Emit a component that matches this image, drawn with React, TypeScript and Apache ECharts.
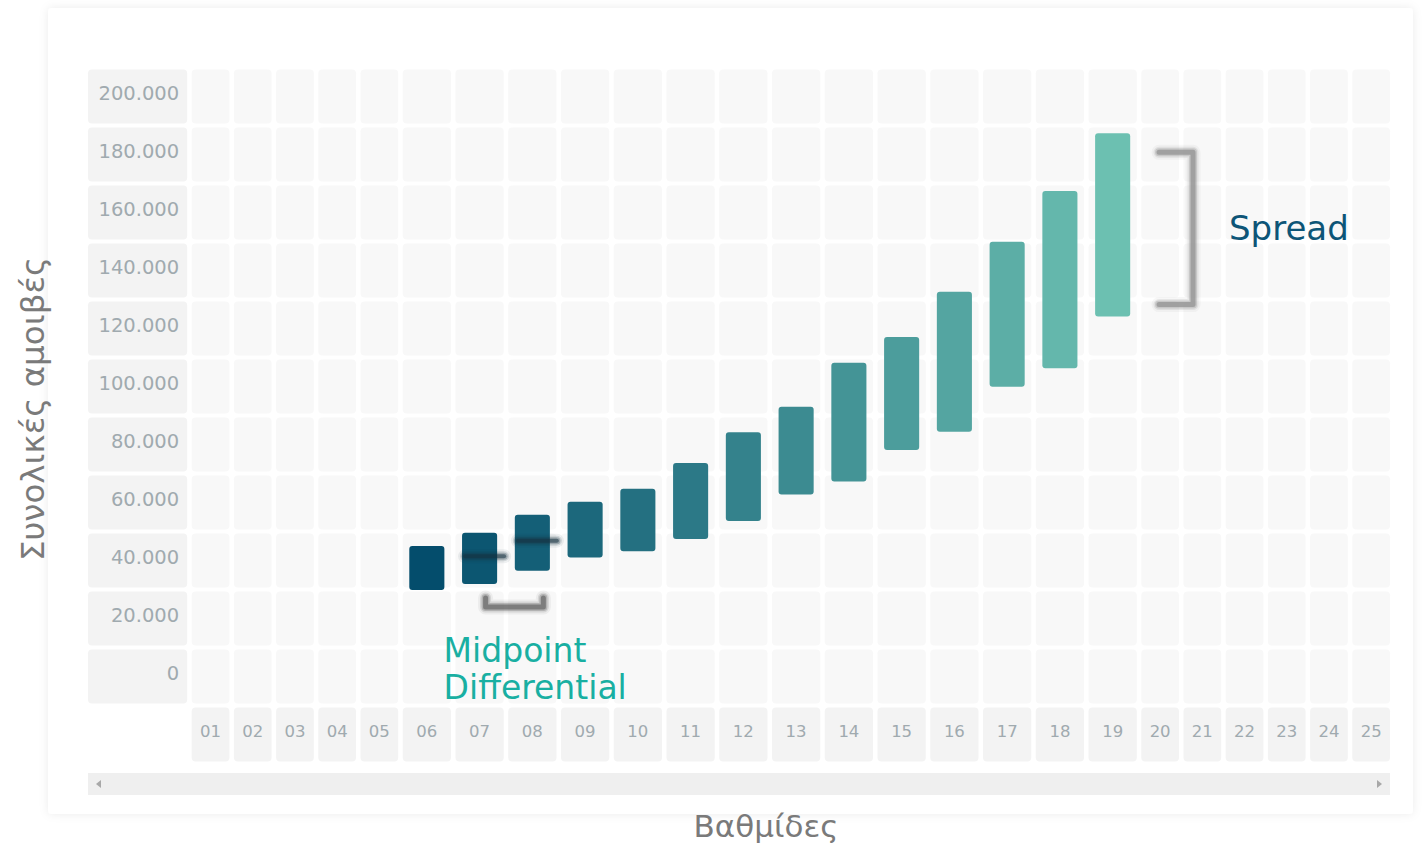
import React, { useEffect, useRef } from 'react';
import * as echarts from 'echarts';

// Grades shown along the horizontal axis
const grades = ['01', '02', '03', '04', '05', '06', '07', '08', '09', '10', '11', '12', '13',
  '14', '15', '16', '17', '18', '19', '20', '21', '22', '23', '24', '25'];

// Pay bands (min / max total compensation) per grade
const bandGrades = ['06', '07', '08', '09', '10', '11', '12', '13', '14', '15', '16', '17', '18', '19'];
const bandMin = [29800, 31900, 36500, 41000, 43200, 47400, 53600, 62800, 67200, 78100, 84400, 99900, 106300, 124100];
const bandMax = [45000, 49600, 55800, 60300, 64700, 73600, 84200, 93000, 108200, 117100, 132700, 149900, 167400, 187300];

// Value-axis tick rows
const yTicks = [0, 20000, 40000, 60000, 80000, 100000, 120000, 140000, 160000, 180000, 200000];

const yAxisTitle = 'Συνολικές αμοιβές';
const xAxisTitle = 'Βαθμίδες';
const spreadGrade = '19';
const midpointGrades = ['07', '08'];
const spreadLabel = 'Spread';
const midpointLabel = 'Midpoint\nDifferential';

// Layout helpers (in axis units)
const STEP = 20000;
const WIDE = 1.25;
const LABEL_COL = 2.457;
const BAR_FRAC = 0.665;

const colWidths = grades.map((g) => (bandGrades.includes(g) ? WIDE : 1));
const colStarts: number[] = [];
let acc = 0;
colWidths.forEach((w) => {
  colStarts.push(acc);
  acc += w;
});
const X_MAX = acc;

const fmt = (v: number) => String(v).replace(/\B(?=(\d{3})+(?!\d))/g, '.');

const C_FROM = [4, 77, 108];
const C_TO = [108, 192, 177];
const bandColor = (i: number, n: number) => {
  const t = n > 1 ? i / (n - 1) : 0;
  const c = C_FROM.map((a, k) => Math.round(a + (C_TO[k] - a) * t));
  return `rgb(${c[0]},${c[1]},${c[2]})`;
};

const TICK_FONT = '"DejaVu Sans", sans-serif';
const NOTE_FONT = '"DejaVu Sans", sans-serif';
const TITLE_FONT = '"DejaVu Sans", sans-serif';

// Soft (blurred-looking) stroke built from layered translucent polylines
const softLine = (points: number[][], color: string, width: number, strength = 1) => {
  const layers = [
    { w: width + 10, o: 0.06 },
    { w: width + 6, o: 0.13 },
    { w: width + 3, o: 0.24 },
    { w: width, o: 0.5 },
  ];
  return layers.map((l) => ({
    type: 'polyline',
    shape: { points },
    style: {
      stroke: color,
      lineWidth: l.w,
      fill: 'none',
      opacity: Math.min(1, l.o * strength),
      lineCap: 'round',
      lineJoin: 'round',
    },
  }));
};

export default function App() {
  const ref = useRef<HTMLDivElement>(null);

  useEffect(() => {
    if (!ref.current) return;
    const chart = echarts.init(ref.current, undefined, { renderer: 'svg' });

    const cellData: number[][] = [];
    yTicks.forEach((v) => {
      cellData.push([-1, v]);
      grades.forEach((_, c) => cellData.push([c, v]));
    });
    grades.forEach((_, c) => cellData.push([c, -STEP]));

    const barData = bandGrades.map((g, i) => [grades.indexOf(g), bandMin[i], bandMax[i], i]);

    const colPx = (api: any, c: number) => {
      const l = api.coord([colStarts[c], 0])[0];
      const r = api.coord([colStarts[c] + colWidths[c], 0])[0];
      return { l, r, c: (l + r) / 2 };
    };
    const barPx = (api: any, g: string) => {
      const i = bandGrades.indexOf(g);
      const c = grades.indexOf(g);
      const cx = colStarts[c] + colWidths[c] / 2;
      const hw = (colWidths[c] * BAR_FRAC) / 2;
      const p0 = api.coord([cx - hw, bandMax[i]]);
      const p1 = api.coord([cx + hw, bandMin[i]]);
      return { l: p0[0], r: p1[0], top: p0[1], bottom: p1[1], mid: api.coord([cx, (bandMin[i] + bandMax[i]) / 2])[1] };
    };

    const option: any = {
      animation: false,
      grid: { left: 85.75, right: 33.75, top: 67.5, bottom: 82.5 },
      xAxis: { type: 'value', min: -LABEL_COL, max: X_MAX, show: false },
      yAxis: { type: 'value', min: -30000, max: 210000, show: false },
      graphic: [
        {
          type: 'rect',
          z: -10,
          shape: { x: 48, y: 8, width: 1365, height: 806, r: 4 },
          style: { fill: '#ffffff', shadowBlur: 10, shadowColor: 'rgba(0,0,0,0.08)' },
        },
        {
          type: 'rect',
          shape: { x: 88, y: 773, width: 1302, height: 22 },
          style: { fill: '#efefef' },
        },
        {
          type: 'polygon',
          shape: { points: [[96, 784], [101, 780], [101, 788]] },
          style: { fill: '#a8a8a8' },
        },
        {
          type: 'polygon',
          shape: { points: [[1382, 784], [1377, 780], [1377, 788]] },
          style: { fill: '#a8a8a8' },
        },
        {
          type: 'text',
          x: 33,
          y: 409,
          rotation: Math.PI / 2,
          style: {
            text: yAxisTitle,
            x: 0,
            y: 0,
            align: 'center',
            verticalAlign: 'middle',
            fill: '#7a7a7a',
            font: `32.5px ${TITLE_FONT}`,
          },
        },
        {
          type: 'text',
          x: 766,
          y: 826,
          style: {
            text: xAxisTitle,
            x: 0,
            y: 0,
            align: 'center',
            verticalAlign: 'middle',
            fill: '#7a7a7a',
            font: `31px ${TITLE_FONT}`,
          },
        },
      ],
      series: [
        {
          type: 'custom',
          name: 'cells',
          silent: true,
          clip: false,
          data: cellData,
          renderItem: (_p: any, api: any) => {
            const c = api.value(0);
            const v = api.value(1);
            const x0 = c < 0 ? -LABEL_COL : colStarts[c];
            const x1 = c < 0 ? 0 : colStarts[c] + colWidths[c];
            const p0 = api.coord([x0, v + STEP / 2]);
            const p1 = api.coord([x1, v - STEP / 2]);
            const gx = 2.25;
            const gy = 2;
            const isHeader = c < 0 || v < 0;
            const children: any[] = [
              {
                type: 'rect',
                shape: { x: p0[0] + gx, y: p0[1] + gy, width: p1[0] - p0[0] - 2 * gx, height: p1[1] - p0[1] - 2 * gy, r: 4 },
                style: { fill: isHeader ? '#f3f3f3' : '#f8f8f8' },
              },
            ];
            const cy = (p0[1] + p1[1]) / 2 - 3;
            if (c < 0) {
              children.push({
                type: 'text',
                style: {
                  text: fmt(v),
                  x: p1[0] - gx - 8,
                  y: cy,
                  align: 'right',
                  verticalAlign: 'middle',
                  fill: '#a0aaaf',
                  font: `19.5px ${TICK_FONT}`,
                },
              });
            } else if (v < 0) {
              children.push({
                type: 'text',
                style: {
                  text: grades[c],
                  x: (p0[0] + p1[0]) / 2,
                  y: cy,
                  align: 'center',
                  verticalAlign: 'middle',
                  fill: '#a0aaaf',
                  font: `16.5px ${TICK_FONT}`,
                },
              });
            }
            return { type: 'group', children };
          },
        },
        {
          type: 'custom',
          name: 'bands',
          clip: false,
          data: barData,
          renderItem: (_p: any, api: any) => {
            const c = api.value(0);
            const lo = api.value(1);
            const hi = api.value(2);
            const i = api.value(3);
            const cx = colStarts[c] + colWidths[c] / 2;
            const hw = (colWidths[c] * BAR_FRAC) / 2;
            const p0 = api.coord([cx - hw, hi]);
            const p1 = api.coord([cx + hw, lo]);
            return {
              type: 'rect',
              shape: { x: p0[0], y: p0[1], width: p1[0] - p0[0], height: p1[1] - p0[1], r: 3 },
              style: { fill: bandColor(i, bandGrades.length) },
            };
          },
        },
        {
          type: 'custom',
          name: 'notes',
          silent: true,
          clip: false,
          z: 5,
          data: [[0, 0]],
          renderItem: (_p: any, api: any) => {
            const children: any[] = [];
            // midpoint markers
            midpointGrades.forEach((g) => {
              const b = barPx(api, g);
              children.push(...softLine([[b.l + 3, b.mid - 2], [b.r + 7, b.mid - 2]], '#16323f', 4, 1.1));
            });
            // midpoint differential bracket
            const a = colPx(api, grades.indexOf(midpointGrades[0]));
            const b = colPx(api, grades.indexOf(midpointGrades[1]));
            const ba = barPx(api, midpointGrades[0]);
            const bl = a.c + 6;
            const br = b.c + 11;
            const bt = ba.bottom + 14;
            const bb = ba.bottom + 23;
            children.push(...softLine([[bl, bt], [bl, bb], [br, bb], [br, bt]], '#5a5a5a', 5, 1.2));
            children.push({
              type: 'text',
              style: {
                text: midpointLabel,
                x: bl - 42,
                y: bb + 62,
                align: 'left',
                verticalAlign: 'middle',
                lineHeight: 37,
                fill: '#19afa2',
                font: `33px ${NOTE_FONT}`,
              },
            });
            // spread bracket
            const sc = colPx(api, grades.indexOf(spreadGrade));
            const sb = barPx(api, spreadGrade);
            const sl = sc.r + 20;
            const sr = sc.r + 54;
            const st = sb.top + 19;
            const sbt = sb.bottom - 12;
            children.push(...softLine([[sl, st], [sr, st], [sr, sbt], [sl, sbt]], '#808080', 5, 1.1));
            children.push({
              type: 'text',
              style: {
                text: spreadLabel,
                x: sc.r + 90,
                y: (st + sbt) / 2,
                align: 'left',
                verticalAlign: 'middle',
                fill: '#0d5577',
                font: `34px ${NOTE_FONT}`,
              },
            });
            return { type: 'group', children };
          },
        },
      ],
    };

    chart.setOption(option);
    return () => chart.dispose();
  }, []);

  return (
    <div
      ref={ref}
      style={{ position: 'fixed', left: 0, top: 0, width: 1426, height: 846, background: '#ffffff' }}
    />
  );
}
